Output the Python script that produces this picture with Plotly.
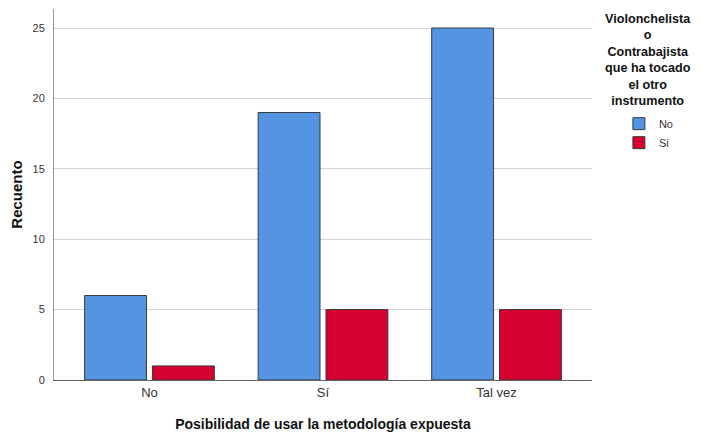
import plotly.graph_objects as go

# data
categorias = ["No", "Sí", "Tal vez"]
serie_no = [6, 19, 25]
serie_si = [1, 5, 5]
nombres = ["No", "Si"]
colores = ["#5594e3", "#d5002f"]
y_ticks = [0, 5, 10, 15, 20, 25]

titulo_leyenda = "Violonchelista<br>o<br>Contrabajista<br>que ha tocado<br>el otro<br>instrumento"

fig = go.Figure()
for nombre, valores, color in zip(nombres, [serie_no, serie_si], colores):
    fig.add_trace(go.Bar(
        x=categorias, y=valores, name=nombre,
        marker=dict(color=color, line=dict(color="#3a3a3a", width=1)),
    ))

font_fam = "Liberation Sans, Arial, sans-serif"

# page body has an 8px margin, so the figure is a bit smaller and shifted
fig.update_layout(
    width=694, height=424,
    margin=dict(l=46, r=110, t=1, b=52, autoexpand=False),
    plot_bgcolor="white", paper_bgcolor="white",
    barmode="group", bargap=0.218, bargroupgap=0.088,
    font=dict(family=font_fam, color="#222"),
    showlegend=True,
    legend=dict(
        x=1.05, y=0.73, xanchor="left", yanchor="top",
        font=dict(size=11, color="#333"),
        tracegroupgap=0, itemwidth=30,
        bgcolor="rgba(0,0,0,0)",
    ),
    xaxis=dict(
        range=[-0.55, 2.55], showgrid=False,
        showline=True, linecolor="#666", linewidth=1,
        ticks="", tickfont=dict(size=13, color="#333"),
        title=dict(text="<b>Posibilidad de usar la metodología expuesta</b>",
                   font=dict(size=14, color="#111"), standoff=20),
    ),
    yaxis=dict(
        range=[0, 26.35], tickvals=y_ticks,
        showgrid=True, gridcolor="#d4d4d4", gridwidth=1,
        showline=True, linecolor="#999", linewidth=1,
        zeroline=False, ticks="", ticklabelstandoff=6,
        tickfont=dict(size=11, color="#333"),
        title=dict(text="<b>Recuento</b>", font=dict(size=15, color="#111"), standoff=12),
    ),
)

fig.add_annotation(
    text="<b>" + titulo_leyenda + "</b>",
    xref="paper", yref="paper", x=1.104, y=0.996,
    xanchor="center", yanchor="top", showarrow=False, align="center",
    font=dict(size=12.6, color="#111", family=font_fam),
)

fig.write_html("out.html")
